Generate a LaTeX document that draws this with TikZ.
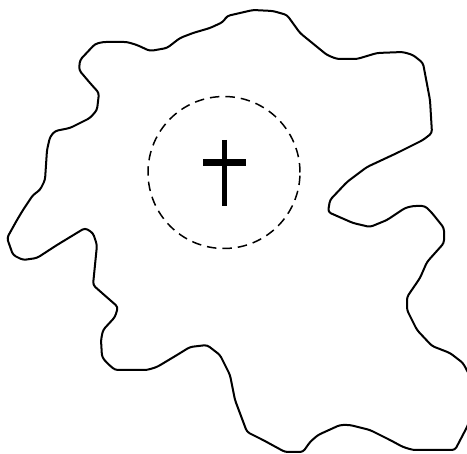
\documentclass[tikz,border=0pt]{standalone}
\usepackage{tikz}
\usetikzlibrary{calc}

\begin{document}
\begin{tikzpicture}[
  x=1pt, y=-1pt,
  outline/.style={line width=2pt, line join=round, line cap=round, rounded corners=3pt},
  zone/.style={line width=1.5pt, dash pattern=on 9.5pt off 6pt},
  crossbar/.style={line width=6pt}
]
  \useasboundingbox (0,0) rectangle (467,454);
  \clip (0,0) rectangle (467,454);

  \coordinate (centre) at (224,172.5);

  % outline of the region
  \draw[outline] (103,42) -- (127,42) -- (137,45) -- (150,51) -- (167,48) -- (180,38)
    -- (193,33) -- (210,28) -- (223,22) -- (227,16) -- (240,13) -- (253,10) -- (273,11)
    -- (287,15) -- (300,33) -- (327,55) -- (337,59) -- (357,59) -- (377,53) -- (403,52)
    -- (413,55) -- (423,63) -- (430,100) -- (432,133) -- (423,140) -- (397,153)
    -- (367,167) -- (347,182) -- (330,200) -- (328,212) -- (337,216) -- (353,223)
    -- (370,227) -- (387,220) -- (405,208) -- (413,206) -- (425,206) -- (432,213)
    -- (444,228) -- (444,243) -- (427,262) -- (420,278) -- (407,297) -- (407,310)
    -- (417,330) -- (432,346) -- (450,353) -- (463,363) -- (472,380) -- (472,415)
    -- (467,427) -- (455,450) -- (413,450) -- (403,447) -- (390,440) -- (370,430)
    -- (350,425) -- (340,425) -- (318,435) -- (310,442) -- (303,452) -- (285,452)
    -- (263,440) -- (247,432) -- (235,400) -- (230,375) -- (220,355) -- (207,345)
    -- (190,347) -- (177,355) -- (157,367) -- (147,370) -- (115,370) -- (107,363)
    -- (102,357) -- (101,340) -- (103,330) -- (115,317) -- (118,307) -- (110,300)
    -- (102,293) -- (93,285) -- (97,245) -- (93,233) -- (85,228) -- (57,245)
    -- (37,258) -- (23,260) -- (13,255) -- (7,238) -- (17,220) -- (23,210) -- (33,195)
    -- (40,190) -- (45,180) -- (47,150) -- (50,137) -- (55,131) -- (70,128) -- (90,118)
    -- (97,110) -- (99,93) -- (90,83) -- (79,70) -- (80,60) -- (95,44) -- cycle;

  \draw[zone] (centre) circle[radius=76pt];

  % cross in the middle
  \draw[crossbar, line width=5.5pt] (224.5,140) -- (224.5,206);
  \draw[crossbar, line width=7pt] (203,163) -- (246,163);
\end{tikzpicture}
\end{document}
